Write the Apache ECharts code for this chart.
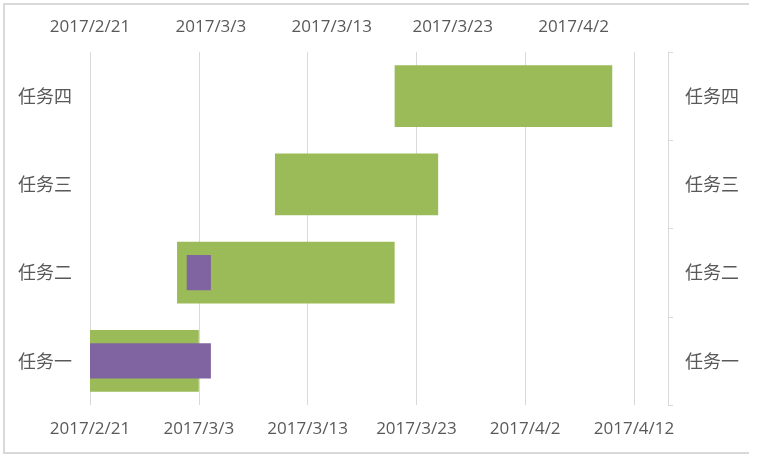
<!DOCTYPE html>
<html>
<head>
<meta charset="utf-8">
<script src="https://cdn.jsdelivr.net/npm/echarts@6/dist/echarts.min.js"></script>
<style>
html,body{margin:0;padding:0;background:#fff;}
#chart{width:762px;height:458px;}
</style>
</head>
<body>
<div id="chart"></div>
<script>
// ---- data ----
var categories = ['任务一', '任务二', '任务三', '任务四'];
var planStart = ['2017/2/21', '2017/3/1', '2017/3/10', '2017/3/21'];
var planEnd = ['2017/3/3', '2017/3/21', '2017/3/25', '2017/4/10'];
var actualStart = ['2017/2/21', '2017/3/1', null, null];
var actualEnd = ['2017/3/3', '2017/3/3', null, null];
var baseDate = '2017/2/21';
var bottomTickLabels = ['2017/2/21', '2017/3/3', '2017/3/13', '2017/3/23', '2017/4/2', '2017/4/12'];
var topTickLabels = ['2017/2/21', '2017/3/3', '2017/3/13', '2017/3/23', '2017/4/2'];
var bottomMaxDays = 50;
var topMaxDays = 45;
var tickStepDays = 10;

function toDays(s) {
  if (!s) return null;
  var p = s.split('/').map(Number);
  var b = baseDate.split('/').map(Number);
  return Math.round((Date.UTC(p[0], p[1] - 1, p[2]) - Date.UTC(b[0], b[1] - 1, b[2])) / 86400000);
}
var planBase = planStart.map(function (s) { return toDays(s); });
var planDur = planEnd.map(function (e, i) { return toDays(e) - toDays(planStart[i]); });
var actBase = actualStart.map(function (s) { return s ? toDays(s) : '-'; });
var actDur = actualEnd.map(function (e, i) { return e ? toDays(e) - toDays(actualStart[i]) : '-'; });

var labelColor = '#595959';
var gridColor = '#D9D9D9';
var dateFont = { color: labelColor, fontSize: 17, fontFamily: 'Open Sans' };
var cjkFont = { color: labelColor, fontSize: 18, fontFamily: 'Noto Sans CJK SC' };

var chart = echarts.init(document.getElementById('chart'), null, { renderer: 'canvas' });
chart.setOption({
  animation: false,
  backgroundColor: '#ffffff',
  grid: { left: 90, right: 128, top: 52, bottom: 53, containLabel: false },
  xAxis: [
    {
      type: 'value', position: 'bottom', min: 0, max: bottomMaxDays, interval: tickStepDays,
      axisLine: { show: false }, axisTick: { show: false },
      splitLine: { show: true, lineStyle: { color: gridColor, width: 1 } },
      axisLabel: Object.assign({ margin: 16, formatter: function (v) { return bottomTickLabels[Math.round(v / tickStepDays)] || ''; } }, dateFont)
    },
    {
      type: 'value', position: 'top', min: 0, max: topMaxDays, interval: tickStepDays,
      axisLine: { show: false }, axisTick: { show: false }, splitLine: { show: false },
      axisLabel: Object.assign({ margin: 16, showMaxLabel: false, formatter: function (v) { return (v % tickStepDays === 0 ? topTickLabels[v / tickStepDays] : '') || ''; } }, dateFont)
    }
  ],
  yAxis: [
    {
      type: 'category', data: categories, position: 'left',
      axisLine: { show: false, onZero: false }, axisTick: { show: false },
      axisLabel: Object.assign({ margin: 18 }, cjkFont)
    },
    {
      type: 'category', data: categories, position: 'right', offset: 34,
      axisLine: { show: true, onZero: false, lineStyle: { color: gridColor, width: 1 } },
      axisTick: { show: true, length: 5, lineStyle: { color: gridColor } },
      axisLabel: Object.assign({ margin: 17 }, cjkFont)
    }
  ],
  series: [
    { name: 'planBase', type: 'bar', stack: 'plan', xAxisIndex: 0, yAxisIndex: 0, barWidth: '70%', silent: true,
      itemStyle: { color: 'rgba(0,0,0,0)' }, data: planBase },
    { name: '计划', type: 'bar', stack: 'plan', xAxisIndex: 0, yAxisIndex: 0, barWidth: '70%',
      itemStyle: { color: '#9BBB59' }, data: planDur },
    { name: 'actBase', type: 'bar', stack: 'act', xAxisIndex: 1, yAxisIndex: 1, barWidth: '40%', silent: true,
      itemStyle: { color: 'rgba(0,0,0,0)' }, data: actBase },
    { name: '实际', type: 'bar', stack: 'act', xAxisIndex: 1, yAxisIndex: 1, barWidth: '40%',
      itemStyle: { color: '#8064A2' }, data: actDur }
  ],
  graphic: [
    { type: 'polyline', silent: true, shape: { points: [[749, 4], [4, 4], [4, 453], [749, 453]] },
      style: { stroke: gridColor, lineWidth: 2, fill: null } }
  ]
});
</script>
</body>
</html>
